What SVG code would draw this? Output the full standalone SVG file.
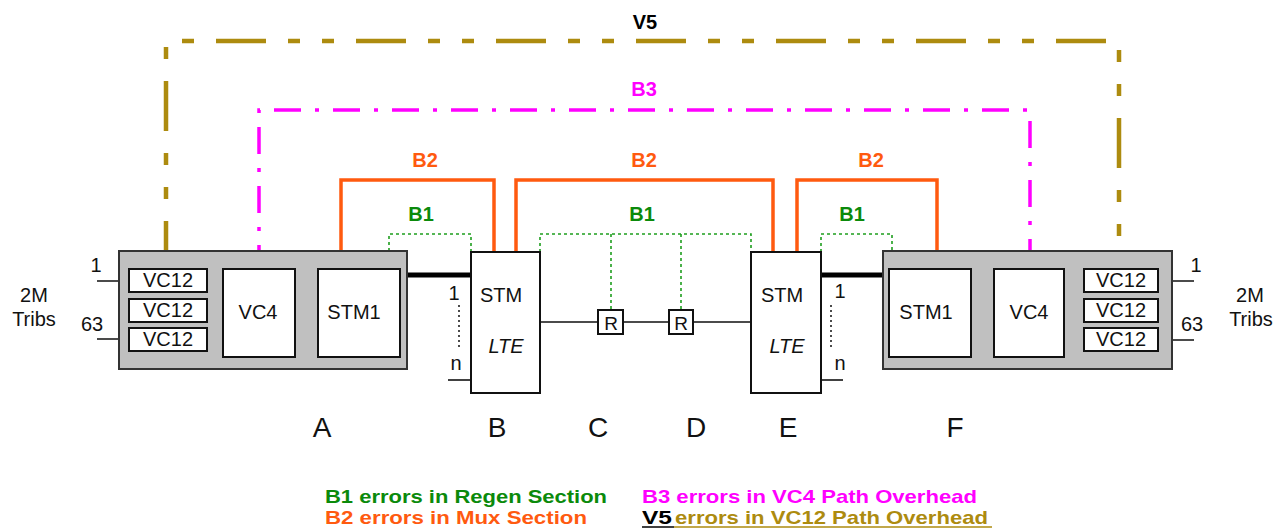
<svg xmlns="http://www.w3.org/2000/svg" width="1288" height="529" viewBox="0 0 1288 529">
<style>
.bg{fill:#fff}
.panel{fill:#c0c0c0;stroke:#333;stroke-width:2}
.box{fill:#fff;stroke:#111;stroke-width:2}
.ln{fill:none;stroke:#111;stroke-width:1.6}
.thick{fill:none;stroke:#000;stroke-width:5}
.dot{fill:none;stroke:#111;stroke-width:1.5;stroke-dasharray:2 3}
.b1{fill:none;stroke:#1e9e1e;stroke-width:1.6;stroke-dasharray:3 3}
.b2{fill:none;stroke:#ff5a0f;stroke-width:3.5}
.b3{fill:none;stroke:#ff00ff;stroke-width:3.5;stroke-dasharray:27 14 4 14}
.v5{fill:none;stroke:#ad8b0f;stroke-width:4.5;stroke-dasharray:50 22 12 22 12 22}
.t{font-family:"Liberation Sans",Arial,sans-serif;font-size:20px;fill:#111;text-anchor:middle}
.it{font-style:italic}
.big{font-size:28px}
.lb{font-family:"Liberation Sans",Arial,sans-serif;font-weight:bold;font-size:20px;text-anchor:middle}
.lg{font-family:"Liberation Sans",Arial,sans-serif;font-weight:bold;font-size:19px}
.g{fill:#0b8a0b}.o{fill:#ff5a0f}.m{fill:#ff00ff}.k{fill:#000}.ol{fill:#ad8b0f}
</style>
<rect class="bg" x="0" y="0" width="1288" height="529"/>

<g id="connectors">
  <!-- V5 path overhead -->
  <path class="v5" d="M166,271 V41 H1119 V271"/>
  <!-- B3 -->
  <path class="b3" d="M259,272 V110 H1030 V269"/>
  <!-- B2 -->
  <path class="b2" d="M341,269 V180 H494 V252"/>
  <path class="b2" d="M516,252 V180 H773 V252"/>
  <path class="b2" d="M797,252 V180 H937 V269"/>
  <!-- B1 -->
  <path class="b1" d="M389,269 V234 H471 V252"/>
  <path class="b1" d="M540,252 V234 H751 V252"/>
  <path class="b1" d="M611,234 V310"/>
  <path class="b1" d="M681,234 V310"/>
  <path class="b1" d="M821,252 V234 H892 V269"/>
  <!-- thick STM links -->
  <path class="thick" d="M399,275 H472"/>
  <path class="thick" d="M820,275 H893"/>
  <!-- line B to E with regenerators -->
  <path class="ln" d="M540,322 H598 M623,322 H669 M693,322 H751"/>
  <!-- trib lines left -->
  <path class="ln" d="M97,281 H129 M97,339 H129"/>
  <path class="ln" d="M207,281 H223 M207,310 H223 M207,339 H223"/>
  <path class="ln" d="M295,310 H318"/>
  <!-- trib lines right -->
  <path class="ln" d="M971,310 H994"/>
  <path class="ln" d="M1064,281 H1084 M1064,310 H1084 M1064,340 H1084"/>
  <path class="ln" d="M1158,281 H1194 M1158,340 H1194"/>
  <!-- tributary 1..n at LTEs -->
  <path class="dot" d="M459,305 V350"/>
  <path class="ln" d="M448,380 H470"/>
  <path class="dot" d="M831,305 V350"/>
  <path class="ln" d="M821,380 H843"/>
</g>

<g id="nodeA">
  <rect class="panel" x="119" y="251" width="288" height="118"/>
  <g id="A-vc12-1"><rect class="box" x="129" y="269" width="78" height="23"/><text class="t" x="168" y="287">VC12</text></g>
  <g id="A-vc12-2"><rect class="box" x="129" y="299" width="78" height="23"/><text class="t" x="168" y="317">VC12</text></g>
  <g id="A-vc12-3"><rect class="box" x="129" y="328" width="78" height="23"/><text class="t" x="168" y="346">VC12</text></g>
  <g id="A-vc4"><rect class="box" x="223" y="269" width="72" height="88"/><text class="t" x="258" y="319">VC4</text></g>
  <g id="A-stm1"><rect class="box" x="318" y="269" width="82" height="88"/><text class="t" x="354" y="319">STM1</text></g>
</g>
<g id="tribsA">
  <text class="t" x="96" y="272">1</text>
  <text class="t" x="92" y="331">63</text>
  <text class="t" x="34" y="302">2M</text>
  <text class="t" x="34" y="326">Tribs</text>
</g>

<g id="nodeB">
  <rect class="box" x="471" y="252" width="69" height="141"/>
  <text class="t" x="501" y="302">STM</text>
  <text class="t it" x="506" y="353">LTE</text>
  <text class="t" x="454" y="300">1</text>
  <text class="t" x="456" y="370">n</text>
</g>

<g id="nodeC">
  <rect class="box" x="598" y="310" width="25" height="24"/>
  <text class="t" x="611" y="330" style="font-size:19px">R</text>
</g>
<g id="nodeD">
  <rect class="box" x="669" y="310" width="24" height="24"/>
  <text class="t" x="681" y="330" style="font-size:19px">R</text>
</g>

<g id="nodeE">
  <rect class="box" x="751" y="252" width="70" height="141"/>
  <text class="t" x="782" y="302">STM</text>
  <text class="t it" x="787" y="353">LTE</text>
  <text class="t" x="840" y="298">1</text>
  <text class="t" x="840" y="370">n</text>
</g>

<g id="nodeF">
  <rect class="panel" x="883" y="251" width="289" height="118"/>
  <g id="F-stm1"><rect class="box" x="889" y="269" width="82" height="88"/><text class="t" x="926" y="319">STM1</text></g>
  <g id="F-vc4"><rect class="box" x="994" y="269" width="70" height="88"/><text class="t" x="1029" y="319">VC4</text></g>
  <g id="F-vc12-1"><rect class="box" x="1084" y="269" width="74" height="23"/><text class="t" x="1121" y="287">VC12</text></g>
  <g id="F-vc12-2"><rect class="box" x="1084" y="299" width="74" height="23"/><text class="t" x="1121" y="317">VC12</text></g>
  <g id="F-vc12-3"><rect class="box" x="1084" y="328" width="74" height="23"/><text class="t" x="1121" y="346">VC12</text></g>
</g>
<g id="tribsF">
  <text class="t" x="1196" y="272">1</text>
  <text class="t" x="1192" y="331">63</text>
  <text class="t" x="1250" y="302">2M</text>
  <text class="t" x="1251" y="326">Tribs</text>
</g>

<g id="overhead-labels">
  <text class="lb k" x="645" y="29">V5</text>
  <text class="lb m" x="644" y="96">B3</text>
  <text class="lb o" x="425" y="167">B2</text>
  <text class="lb o" x="644" y="167">B2</text>
  <text class="lb o" x="871" y="167">B2</text>
  <text class="lb g" x="421" y="221">B1</text>
  <text class="lb g" x="642" y="221">B1</text>
  <text class="lb g" x="852" y="221">B1</text>
</g>

<g id="site-labels">
  <text class="t big" x="322" y="437">A</text>
  <text class="t big" x="497" y="437">B</text>
  <text class="t big" x="598" y="437">C</text>
  <text class="t big" x="696" y="437">D</text>
  <text class="t big" x="788" y="437">E</text>
  <text class="t big" x="955" y="437">F</text>
</g>

<g id="legend">
  <text class="lg g" x="325" y="503" textLength="282" lengthAdjust="spacingAndGlyphs">B1 errors in Regen Section</text>
  <text class="lg o" x="325" y="524" textLength="262" lengthAdjust="spacingAndGlyphs">B2 errors in Mux Section</text>
  <text class="lg m" x="642" y="503" textLength="335" lengthAdjust="spacingAndGlyphs">B3 errors in VC4 Path Overhead</text>
  <text class="lg k" x="642" y="524" textLength="30" lengthAdjust="spacingAndGlyphs">V5</text>
  <text class="lg ol" x="675" y="524" textLength="313" lengthAdjust="spacingAndGlyphs">errors in VC12 Path Overhead</text>
  <path d="M642,527 H674" stroke="#000" stroke-width="1.5"/>
  <path d="M674,527 H992" stroke="#ad8b0f" stroke-width="1.5"/>
</g>
</svg>
